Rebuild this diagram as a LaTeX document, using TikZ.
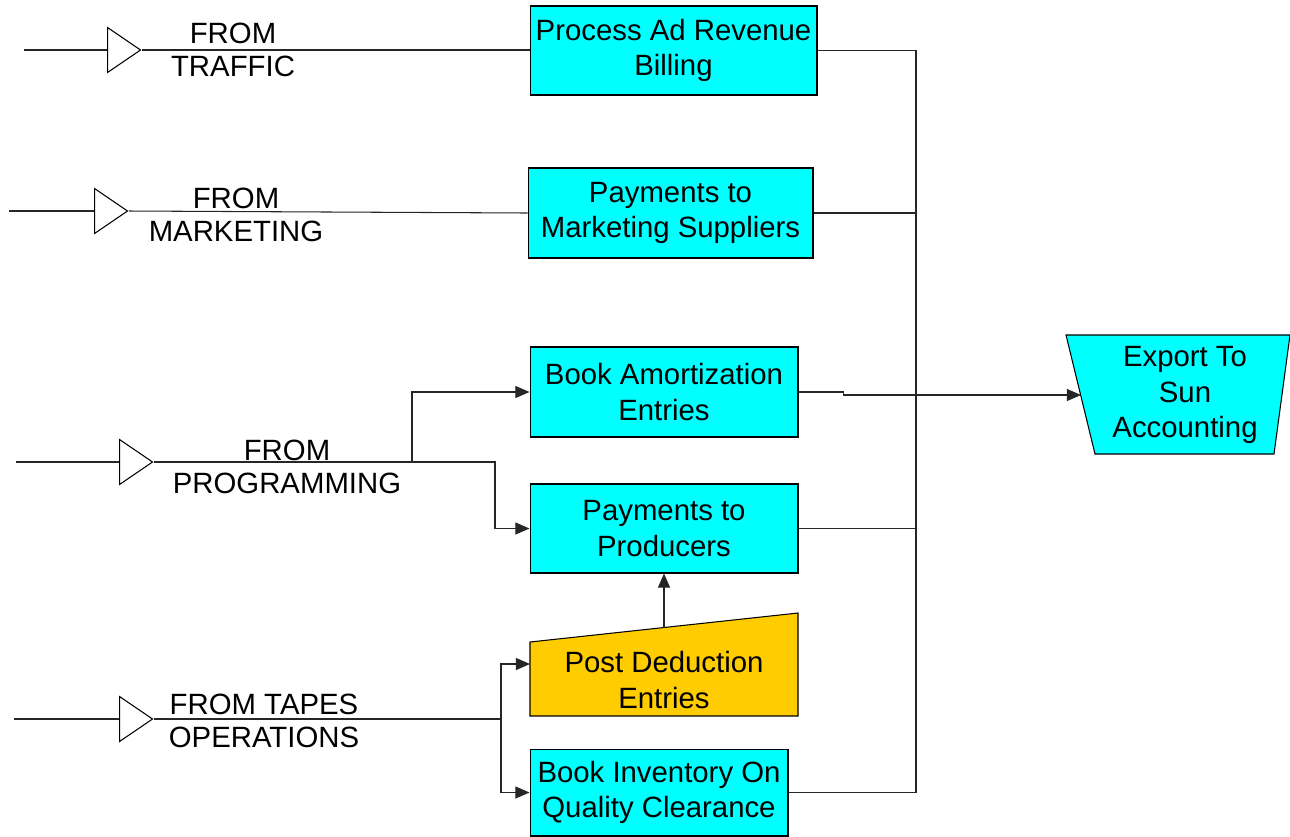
\documentclass[tikz,border=0pt]{standalone}
\usepackage{fontspec}
\setmainfont{Liberation Sans}
\usetikzlibrary{shapes.geometric, arrows.meta, positioning}
\definecolor{taskcyan}{RGB}{0,255,255}
\definecolor{deduct}{RGB}{255,204,0}
\tikzset{
	task/.style={
		draw,
		fill=taskcyan,
		rectangle,
		inner sep=0pt,
		align=center,
		font=\fontsize{16.7}{20.2}\selectfont
	},
	source/.style={
		draw,
		fill=white,
		isosceles triangle,
		isosceles triangle stretches,
		inner sep=0pt,
		minimum width=0.9cm,
		minimum height=0.66cm
	},
	srclabel/.style={
		align=center,
		inner sep=0pt,
		font=\fontsize{16.7}{18.8}\selectfont
	},
	flow/.style={draw=black!85, line width=0.6pt}
}

\begin{document}
\begin{tikzpicture}[x=0.02cm, y=-0.02cm, line width=0.6pt, >={Triangle[length=8pt,width=6.8pt]}]
	\useasboundingbox (0,0) rectangle (1290,836);

	% processing boxes
	\node[task, minimum width=5.74cm, minimum height=1.78cm] (adrev) at (673.5,50.5) {Process Ad Revenue\\Billing};
	\node[task, minimum width=5.70cm, minimum height=1.80cm] (mktsup) at (670.5,213) {Payments to\\Marketing Suppliers};
	\node[task, minimum width=5.36cm, minimum height=1.80cm] (amort) at (664,392) {Book Amortization\\Entries};
	\node[task, minimum width=5.36cm, minimum height=1.78cm] (prod) at (664,528.5) {Payments to\\Producers};
	\node[task, minimum width=5.16cm, minimum height=1.74cm] (inv) at (659,792.5) {Book Inventory On\\Quality Clearance};

	% manual input: post deduction
	\filldraw[fill=deduct, draw=black] (530,642) -- (798,613) -- (798,716) -- (530,716) -- cycle;
	\node[srclabel, font=\fontsize{16.7}{20.2}\selectfont] (postded) at (664,680) {Post Deduction\\Entries};
	\coordinate (pdin) at (530,664);
	\coordinate (pdtop) at (664,627.5);

	% export to sun
	\filldraw[fill=taskcyan, draw=black] (1066,335) -- (1290,335) -- (1274,454) -- (1095,454) -- cycle;
	\node[srclabel, font=\fontsize{16.7}{20.2}\selectfont] (export) at (1185,395) {Export To\\Sun\\Accounting};
	\coordinate (expin) at (1081,395);

	% incoming sources
	\node[source, anchor=west] (trfsrc) at (107,50) {};
	\node[source, anchor=west] (mktsrc) at (94,211) {};
	\node[source, anchor=west] (pgmsrc) at (119,462) {};
	\node[source, anchor=west] (tpsrc) at (119,719) {};
	\coordinate (trfstart) at (24,50);
	\coordinate (mktstart) at (9,211);
	\coordinate (pgmstart) at (16,462);
	\coordinate (tpstart) at (14,719);

	\node[srclabel] (trflbl) at (233,49.5) {FROM\\TRAFFIC};
	\node[srclabel] (mktlbl) at (236,214.5) {FROM\\MARKETING};
	\node[srclabel] (pgmlbl) at (287,466.5) {FROM\\PROGRAMMING};
	\node[srclabel] (tplbl) at (264,721) {FROM TAPES\\OPERATIONS};

	\foreach \src in {trf, mkt, pgm, tp} {
		\draw[flow] (\src start) -- (\src src.west);
	}

	% source -> tasks
	\draw[flow] (trfsrc.east) -- (trfsrc.east -| adrev.west);
	\draw[flow] (mktsrc.east) -- (mktsup.west);

	\coordinate (pgmjn) at (412,462);
	\draw[flow] (pgmsrc.east) -- (pgmjn);
	\draw[flow, ->] (pgmjn) |- (amort.west);
	\draw[flow, ->] (pgmjn) -- ++(83,0) |- (prod.west);

	\coordinate (tpjn) at (501,719);
	\draw[flow] (tpsrc.east) -- (tpjn);
	\draw[flow, ->] (tpjn) |- (pdin);
	\draw[flow, ->] (tpjn) |- (inv.west);
	\draw[flow, ->] (pdtop) -- (prod.south);

	% tasks -> export
	\coordinate (junc) at (916,395);
	\foreach \task in {adrev, mktsup, prod, inv} {
		\draw[flow] (\task.east) -| (junc);
	}
	\draw[flow] (amort.east) -- ++(45,0) |- (junc);
	\draw[flow, ->] (junc) -- (expin);
\end{tikzpicture}
\end{document}
